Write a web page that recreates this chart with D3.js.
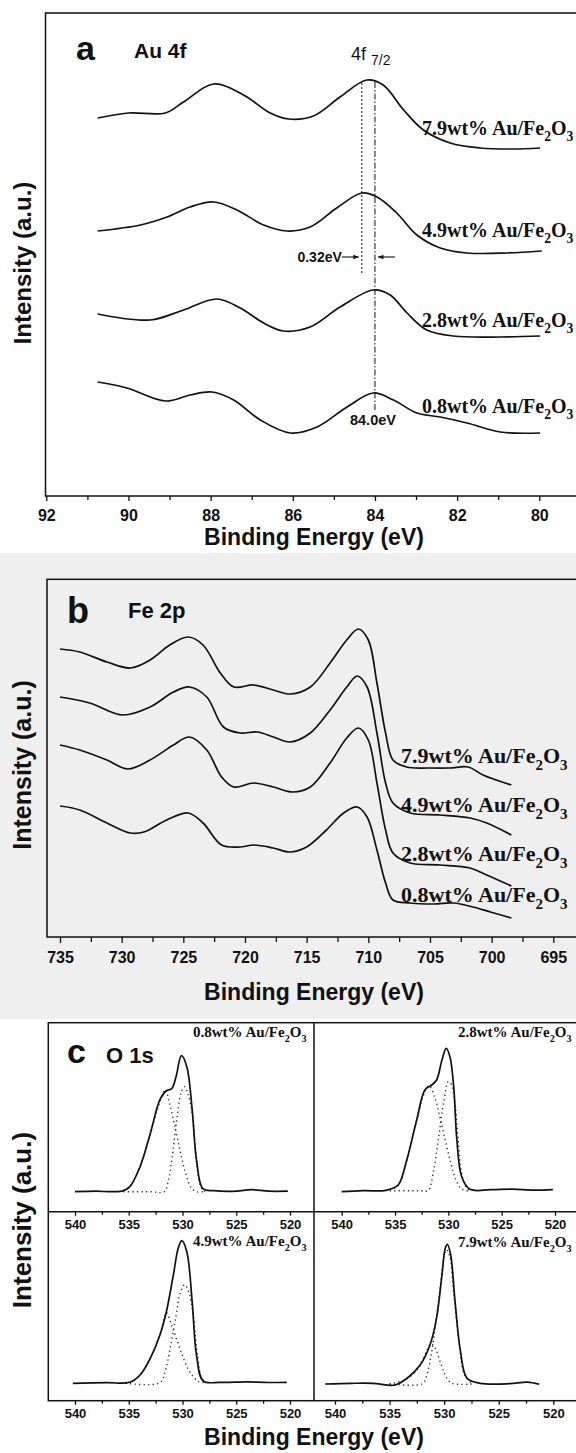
<!DOCTYPE html>
<html>
<head>
<meta charset="utf-8">
<script src="https://cdn.jsdelivr.net/npm/d3@7"></script>
<style>
  body { margin: 0; background: #fff; }
  svg { display: block; }
  text { font-family: "Liberation Sans", Arial, sans-serif; fill: #111; }
  .serif { font-family: "Liberation Serif", "Times New Roman", serif; font-weight: bold; }
</style>
</head>
<body>
<svg width="576" height="1453"></svg>
<script>
// XPS spectra of Au/Fe2O3 catalysts: (a) Au 4f, (b) Fe 2p, (c) O 1s

// ---------- data ----------
const sampleNames = ['7.9wt%', '4.9wt%', '2.8wt%', '0.8wt%'];

// Au 4f  [binding energy eV, intensity a.u.]
const au79 = [[90.75,378],[90.0,383],[89.1,383],[88.66,394],[87.93,412],[87.2,401],[86.55,383],[86.1,377],[85.5,380],[84.85,399],[84.2,416],[83.8,411],[83.3,386],[82.82,366],[82.17,353],[81.44,348],[80.63,347],[79.98,348]];
const au49 = [[90.75,265],[89.71,271],[89.06,279],[88.5,289],[87.93,294],[87.36,286],[86.71,271],[86.14,265],[85.58,269],[84.93,288],[84.32,303],[83.95,299],[83.47,283],[82.98,261],[82.41,248],[81.76,243],[80.79,243],[79.94,245]];
const au28 = [[90.75,182],[89.47,176],[88.66,186],[87.85,197],[87.28,188],[86.71,173],[86.23,165],[85.58,169],[84.85,189],[84.04,206],[83.63,201],[83.22,183],[82.74,166],[82.09,160],[80.95,159],[79.98,160]];
const au08 = [[90.75,114],[90.04,108],[89.1,95],[88.5,101],[87.97,104],[87.44,96],[86.79,76],[86.06,63],[85.41,69],[84.68,89],[84.04,103],[83.55,96],[82.98,83],[82.41,79],[81.76,73],[80.95,64],[79.98,63]];
const auTicks = [92, 90, 88, 86, 84, 82, 80];
const auMinor = [91, 89, 87, 85, 83, 81];
const auPeak = 84.0;      // reference 4f7/2 position
const auShift = 0.32;     // shift of the 4.9 / 7.9 wt% samples

// Fe 2p
const fe79 = [[735,288],[733.4,285],[731.2,275],[729.3,269],[727.7,277],[726.1,292],[724.6,300],[723.4,292],[722.0,264],[720.9,250],[719.3,252],[717.7,247],[716.3,243],[714.7,250],[713.1,274],[711.75,297],[710.8,308],[710.0,297],[709.3,254],[708.6,204],[708.0,177],[706.9,170],[705.0,169],[703.4,169],[701.9,170],[700.7,162],[698.4,152]];
const fe49 = [[735,240],[732.6,234],[729.9,222],[727.7,230],[725.8,245],[724.5,250],[723.1,240],[721.75,210],[720.4,204],[719.0,205],[717.7,200],[716.35,195],[714.7,204],[713.1,227],[711.75,250],[710.9,261],[710.1,250],[709.3,204],[708.6,154],[708.0,134],[706.6,124],[704.2,122],[701.75,119],[700.4,114],[698.4,102]];
const fe28 = [[735,192],[733.4,187],[731.2,177],[729.5,168],[727.7,177],[725.8,192],[724.5,200],[723.1,187],[721.9,160],[720.9,150],[719.3,154],[717.7,150],[716.1,145],[714.7,150],[713.1,174],[711.75,199],[710.8,209],[710.0,197],[709.3,154],[708.6,107],[708.0,84],[706.6,74],[704.2,72],[701.75,69],[700.4,62],[698.4,51]];
const fe08 = [[735,131],[733.4,127],[731.2,114],[729.3,104],[728.2,105],[726.35,117],[724.6,124],[723.4,114],[721.9,92],[720.4,90],[719.3,92],[717.7,89],[716.35,85],[715.0,90],[713.4,107],[712.0,124],[710.9,130],[710.1,120],[709.3,87],[708.6,54],[708.0,37],[706.6,34],[704.7,33],[703.1,34],[701.5,30],[700.1,25],[698.4,19]];
const feTicks = [735, 730, 725, 720, 715, 710, 705, 700, 695];
const feMinor = [732.5, 727.5, 722.5, 717.5, 712.5, 707.5, 702.5, 697.5];

// O 1s: measured envelope and the two fitted components
const o08 = [[540,20],[538,20.5],[536.5,20],[535.5,21],[534.9,25],[533.95,45],[533.0,78],[532.1,112],[531.5,121],[531.0,123],[530.6,135],[530.1,156],[529.6,145],[529.1,102],[528.7,52],[528.1,23],[527.1,21],[525,20.5],[523.6,22],[522,20.5],[520.2,20.5]];
const o08a = [[535.5,20],[533,20],[531.7,20],[531.3,32],[530.9,60],[530.5,95],[530.1,120],[529.8,125],[529.5,118],[529.1,98],[528.7,50],[528.3,25],[527.9,20]];
const o08b = [[535.5,21],[534.9,25],[533.95,45],[533.0,78],[532.1,110],[531.6,122],[531.2,108],[530.7,85],[530.2,60],[529.7,38],[529.2,24],[528.7,20],[528.1,20]];
const o28 = [[540,20],[538,21],[536,21],[535.5,22.4],[534.7,26.7],[533.9,51.7],[532.97,91.7],[532.2,121.7],[531.56,126.7],[531.1,131.7],[530.6,151.7],[530.2,163.4],[529.85,155],[529.5,125],[529.2,71.7],[528.75,35],[527.98,22.4],[526,22],[524,22.5],[522,21.5],[520.2,22]];
const o28a = [[535.5,21],[532.5,21],[531.9,21],[531.4,40],[530.9,75],[530.4,112],[530.0,130],[529.7,127],[529.4,110],[529.1,75],[528.75,38],[528.3,24],[527.9,21]];
const o28b = [[535.5,22],[534.7,26],[533.9,51],[532.97,91],[532.2,120],[531.8,126],[531.3,115],[530.8,95],[530.3,72],[529.8,50],[529.3,32],[528.8,23],[528.3,21],[527.9,21]];
const o49 = [[540.2,17.4],[537,18],[534.9,18.4],[533.95,25.7],[533.0,42.4],[532.1,65.7],[531.5,89],[530.85,125.7],[530.4,152.4],[530.07,160],[529.6,149],[529.1,99],[528.7,45.7],[528.07,19.7],[526.5,18.4],[524,18.8],[522,18.2],[520.3,18.4]];
const o49a = [[535.3,17.4],[532.1,18],[531.6,30],[531.1,55],[530.6,85],[530.2,108],[529.8,116],[529.4,108],[529.0,85],[528.6,45],[528.2,22],[527.8,18]];
const o49b = [[535.3,17.4],[534.9,18.4],[533.95,25.7],[533.0,42.4],[532.1,65.7],[531.5,88],[531.0,75],[530.5,60],[530.0,45],[529.5,32],[529.0,24],[528.5,19],[527.8,18]];
const o79 = [[540.9,16.7],[538.5,17.4],[536.5,17.4],[534.5,15.7],[533.4,22.4],[532.2,35.7],[531.3,55.7],[530.7,82.4],[530.2,125.7],[529.9,152.4],[529.7,156.4],[529.4,145.7],[529.0,99],[528.5,49],[527.9,22.4],[526.7,17.4],[524,17],[522.4,18.5],[521.3,16.4]];
const o79a = [[535,16.7],[532.0,17],[531.6,25],[531.2,45],[530.8,75],[530.4,110],[530.0,145],[529.8,151],[529.5,145],[529.1,105],[528.6,55],[528.1,25],[527.4,17]];
const o79b = [[535,16.7],[533.4,22],[532.2,35],[531.6,50],[531.2,57],[530.8,52],[530.4,40],[530.0,28],[529.6,20],[529.2,17],[527.4,16.7]];
const oTicks = [540, 535, 530, 525, 520];
const oMinor = [537.5, 532.5, 527.5, 522.5];

// ---------- drawing ----------
const svg = d3.select('svg');
const INK = '#111';

const curve = d3.curveCatmullRom.alpha(0.5);

function drawLine(g, data, x, y, dashed) {
    const p = g.append('path')
        .datum(data)
        .attr('d', d3.line().curve(curve).x(d => x(d[0])).y(d => y(d[1])))
        .attr('fill', 'none')
        .attr('stroke', INK)
        .attr('stroke-width', dashed ? 1.4 : 1.7)
        .attr('stroke-linejoin', 'round');
    if (dashed) p.attr('stroke-dasharray', '1.3,3.2').attr('stroke', '#333');
}

// x axis with labelled major ticks + unlabelled minor ticks
function drawAxis(y0, x, major, minor, len, fs, labelBase) {
    const pad = labelBase - y0 - len - 0.71 * fs;
    const ax = svg.append('g')
        .attr('transform', `translate(0,${y0})`)
        .call(d3.axisBottom(x).tickValues(major).tickSize(len).tickPadding(pad).tickFormat(d3.format('d')));
    ax.select('.domain').remove();
    ax.attr('font-size', fs).attr('font-weight', 'bold').attr('font-family', '"Liberation Sans", Arial, sans-serif');
    ax.selectAll('line').attr('stroke', INK).attr('stroke-width', 1.3);
    const mi = svg.append('g')
        .attr('transform', `translate(0,${y0})`)
        .call(d3.axisBottom(x).tickValues(minor).tickSize(len - 1).tickFormat(''));
    mi.select('.domain').remove();
    mi.selectAll('line').attr('stroke', INK).attr('stroke-width', 1.3);
}

function sampleLabel(x, y, name, fs) {
    const t = svg.append('text').attr('class', 'serif').attr('x', x).attr('y', y).attr('font-size', fs);
    t.append('tspan').text(name + ' Au/Fe');
    t.append('tspan').attr('font-size', fs * 0.68).attr('dy', fs * 0.3).text('2');
    t.append('tspan').attr('dy', -fs * 0.3).text('O');
    t.append('tspan').attr('font-size', fs * 0.68).attr('dy', fs * 0.3).text('3');
}

function yLabel(x, y, fs) {
    svg.append('text')
        .attr('transform', `translate(${x},${y}) rotate(-90)`)
        .attr('text-anchor', 'middle')
        .attr('font-weight', 'bold')
        .attr('font-size', fs)
        .text('Intensity (a.u.)');
}

function xTitle(y, fs) {
    svg.append('text')
        .attr('x', 314).attr('y', y)
        .attr('text-anchor', 'middle')
        .attr('font-weight', 'bold')
        .attr('font-size', fs)
        .text('Binding Energy (eV)');
}

function frame(x, y, w, h) {
    svg.append('rect').attr('x', x).attr('y', y).attr('width', w).attr('height', h)
        .attr('fill', 'none').attr('stroke', INK).attr('stroke-width', 1.5);
}

svg.append('defs').append('marker')
    .attr('id', 'arr').attr('viewBox', '0 0 10 10').attr('refX', 10).attr('refY', 5)
    .attr('markerWidth', 7).attr('markerHeight', 5).attr('orient', 'auto')
    .append('path').attr('d', 'M0,1L10,5L0,9Z').attr('fill', INK);

// ===== panel a : Au 4f =====
const xA = d3.scaleLinear().domain([92, 80]).range([46.3, 539.3]);
const yA = d3.scaleLinear().domain([0, 483]).range([496, 13]);
const gA = svg.append('g');

frame(45.5, 13, 560, 483);
[au79, au49, au28, au08].forEach(s => drawLine(gA, s, xA, yA));

// peak markers
gA.append('line')
    .attr('x1', xA(auPeak + auShift)).attr('x2', xA(auPeak + auShift))
    .attr('y1', yA(413)).attr('y2', yA(223))
    .attr('stroke', INK).attr('stroke-width', 1).attr('stroke-dasharray', '2,2');
gA.append('line')
    .attr('x1', xA(auPeak)).attr('x2', xA(auPeak))
    .attr('y1', yA(414)).attr('y2', yA(86))
    .attr('stroke', INK).attr('stroke-width', 1).attr('stroke-dasharray', '6,2,1.5,2');

const arrowY = 257;
gA.append('text').attr('x', xA(auPeak + auShift) - 20).attr('y', arrowY + 5)
    .attr('text-anchor', 'end').attr('font-size', 14).attr('font-weight', 'bold')
    .text(auShift.toFixed(2) + 'eV');
gA.append('line').attr('x1', xA(auPeak + auShift) - 20).attr('x2', xA(auPeak + auShift) - 3)
    .attr('y1', arrowY).attr('y2', arrowY).attr('stroke', INK).attr('stroke-width', 1.1)
    .attr('marker-end', 'url(#arr)');
gA.append('line').attr('x1', xA(auPeak) + 20).attr('x2', xA(auPeak) + 3)
    .attr('y1', arrowY).attr('y2', arrowY).attr('stroke', INK).attr('stroke-width', 1.1)
    .attr('marker-end', 'url(#arr)');
gA.append('text').attr('x', xA(auPeak) - 2).attr('y', 425)
    .attr('text-anchor', 'middle').attr('font-size', 14.5).attr('font-weight', 'bold')
    .text(auPeak.toFixed(1) + 'eV');

const t4f = gA.append('text').attr('x', 351).attr('y', 60).attr('font-size', 18);
t4f.append('tspan').text('4f');
t4f.append('tspan').attr('dx', 5).attr('dy', 5).attr('font-size', 14).text('7/2');

gA.append('text').attr('x', 76).attr('y', 60).attr('font-size', 34).attr('font-weight', 'bold').text('a');
gA.append('text').attr('x', 134).attr('y', 58).attr('font-size', 21).attr('font-weight', 'bold').text('Au 4f');

const auBase = [135, 236.7, 326.7, 413.3];
sampleNames.forEach((n, i) => sampleLabel(422, auBase[i], n, 20));

drawAxis(496, xA, auTicks, auMinor, 5, 16, 521);
xTitle(545, 23);
yLabel(31, 263, 24);

// ===== panel b : Fe 2p =====
svg.insert('rect', ':first-child')
    .attr('x', 0).attr('y', 553).attr('width', 576).attr('height', 466).attr('fill', '#efefef');

const xB = d3.scaleLinear().domain([735, 695]).range([60, 553.3]);
const yB = d3.scaleLinear().domain([0, 358]).range([937, 579]);
const gB = svg.append('g');

frame(47, 579.3, 560, 357.7);
[fe79, fe49, fe28, fe08].forEach(s => drawLine(gB, s, xB, yB));

gB.append('text').attr('x', 67).attr('y', 623).attr('font-size', 36).attr('font-weight', 'bold').text('b');
gB.append('text').attr('x', 128).attr('y', 618).attr('font-size', 22).attr('font-weight', 'bold').text('Fe 2p');

const feBase = [763, 812, 861, 902];
sampleNames.forEach((n, i) => sampleLabel(401, feBase[i], n, 22));

drawAxis(937, xB, feTicks, feMinor, 6, 16, 963);
xTitle(1000, 23);
yLabel(31, 765, 25);

// ===== panel c : O 1s =====
const cTop = 1022.7, cMid = 1211.7, cBot = 1400.7;
const oPanels = [
    { env: o08, c1: o08a, c2: o08b, name: '0.8wt%', x0: 75,    x1: 290,   axis: cMid, lx: 193, ly: 1037 },
    { env: o28, c1: o28a, c2: o28b, name: '2.8wt%', x0: 341.7, x1: 555,   axis: cMid, lx: 458, ly: 1037 },
    { env: o49, c1: o49a, c2: o49b, name: '4.9wt%', x0: 75,    x1: 290,   axis: cBot, lx: 193, ly: 1246 },
    { env: o79, c1: o79a, c2: o79b, name: '7.9wt%', x0: 335,   x1: 553.3, axis: cBot, lx: 458, ly: 1247 }
];

frame(48.3, cTop, 560, cBot - cTop);
svg.append('line').attr('x1', 314).attr('x2', 314).attr('y1', cTop).attr('y2', cBot)
    .attr('stroke', INK).attr('stroke-width', 1.5);
svg.append('line').attr('x1', 48.3).attr('x2', 600).attr('y1', cMid).attr('y2', cMid)
    .attr('stroke', INK).attr('stroke-width', 1.5);

oPanels.forEach(p => {
    const x = d3.scaleLinear().domain([540, 520]).range([p.x0, p.x1]);
    const y = d3.scaleLinear().domain([0, 189]).range([p.axis, p.axis - 189]);
    const g = svg.append('g');
    drawLine(g, p.c1, x, y, true);
    drawLine(g, p.c2, x, y, true);
    drawLine(g, p.env, x, y, false);
    sampleLabel(p.lx, p.ly, p.name, 15);
    drawAxis(p.axis, x, oTicks, oMinor, 4, 13, p.axis + 17);
});

svg.append('text').attr('x', 67).attr('y', 1063).attr('font-size', 34).attr('font-weight', 'bold').text('c');
svg.append('text').attr('x', 106).attr('y', 1063).attr('font-size', 22).attr('font-weight', 'bold').text('O 1s');

xTitle(1445, 23);
yLabel(31, 1220, 26);
</script>
</body>
</html>
